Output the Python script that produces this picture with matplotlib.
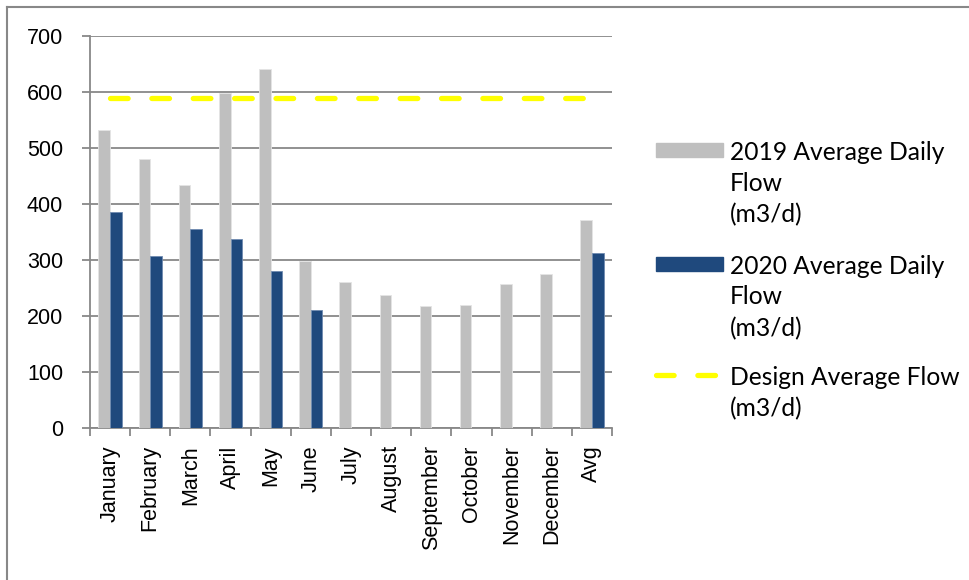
import matplotlib.pyplot as plt
from matplotlib.patches import Rectangle
from matplotlib.lines import Line2D
import numpy as np

# dados
meses = ['January', 'February', 'March', 'April', 'May', 'June', 'July',
         'August', 'September', 'October', 'November', 'December', 'Avg']
vazao_2019 = [532, 480, 434, 598, 641, 299, 260, 238, 218, 219, 258, 275, 371]
vazao_2020 = [386, 308, 356, 337, 280, 210, np.nan, np.nan, np.nan, np.nan, np.nan, np.nan, 313]
vazao_projeto = [590] * len(meses)

legenda = ['2019 Average Daily\nFlow\n(m3/d)',
           '2020 Average Daily\nFlow\n(m3/d)',
           'Design Average Flow\n(m3/d)']

cinza = '#BFBFBF'
azul = '#1F497D'
amarelo = '#FFFF00'
grade = '#888888'

W, H = 969, 580
fig = plt.figure(figsize=(W / 100, H / 100), dpi=100)
ax = fig.add_axes([90 / W, 1 - 428 / H, (612 - 90) / W, (428 - 36) / H])

x = np.arange(len(meses))
larg = 0.29
ax.bar(x - larg / 2, vazao_2019, larg, color=cinza, edgecolor='#E4E4E4', linewidth=0.6, zorder=3)
ax.bar(x + larg / 2, vazao_2020, larg, color=azul, edgecolor='#6F8BB0', linewidth=0.6, zorder=3)
ax.plot(x, vazao_projeto, color=amarelo, lw=3.8, dashes=(3.34, 4.5),
        dash_capstyle='round', zorder=4)

ax.set_xlim(-0.5, len(meses) - 0.5)
ax.set_ylim(0, 700)
ax.set_yticks(range(0, 701, 100))
ax.yaxis.grid(True, color=grade, lw=1.3, zorder=1)
ax.set_axisbelow(True)

ax.set_xticks(x)
ax.set_xticklabels(meses, rotation=90, fontsize=15.5, family='Liberation Sans')
ax.set_xticks(np.arange(-0.5, len(meses), 1), minor=True)
ax.tick_params(axis='x', which='major', length=0, pad=12.5)
ax.tick_params(axis='x', which='minor', length=5.5, width=1.3, color=grade)
ax.tick_params(axis='y', length=5.8, width=1.3, color=grade, pad=13.5)
for lab in ax.get_yticklabels():
    lab.set_fontsize(15.5)
    lab.set_family('Liberation Sans')

for lado in ['top', 'right']:
    ax.spines[lado].set_visible(False)
for lado in ['left', 'bottom']:
    ax.spines[lado].set_color(grade)
    ax.spines[lado].set_linewidth(1.3)

# moldura externa (so topo e esquerda aparecem)
fig.add_artist(Line2D([7 / W, 1], [1 - 6.7 / H, 1 - 6.7 / H], color=grade, lw=1.5, transform=fig.transFigure))
fig.add_artist(Line2D([7 / W, 7 / W], [0, 1 - 6.7 / H], color=grade, lw=1.5, transform=fig.transFigure))

# legenda manual
topos = [143, 256.5, 368]
for i, (txt, topo) in enumerate(zip(legenda, topos)):
    yc = 1 - (topo + 7) / H
    if i < 2:
        cor = cinza if i == 0 else azul
        fig.add_artist(Rectangle((656 / W, yc - 7 / H), 67 / W, 14 / H, color=cor,
                                 transform=fig.transFigure))
    else:
        fig.add_artist(Line2D([656 / W, 720 / W], [yc, yc], color=amarelo, lw=3.8,
                              dashes=(3.34, 4.5), dash_capstyle='round',
                              transform=fig.transFigure))
    fig.text(730 / W, 1 - (topo - 2) / H, txt, fontsize=17.7, family='Lato',
             va='top', ha='left', linespacing=1.42)

fig.savefig('out.png', dpi=100)
